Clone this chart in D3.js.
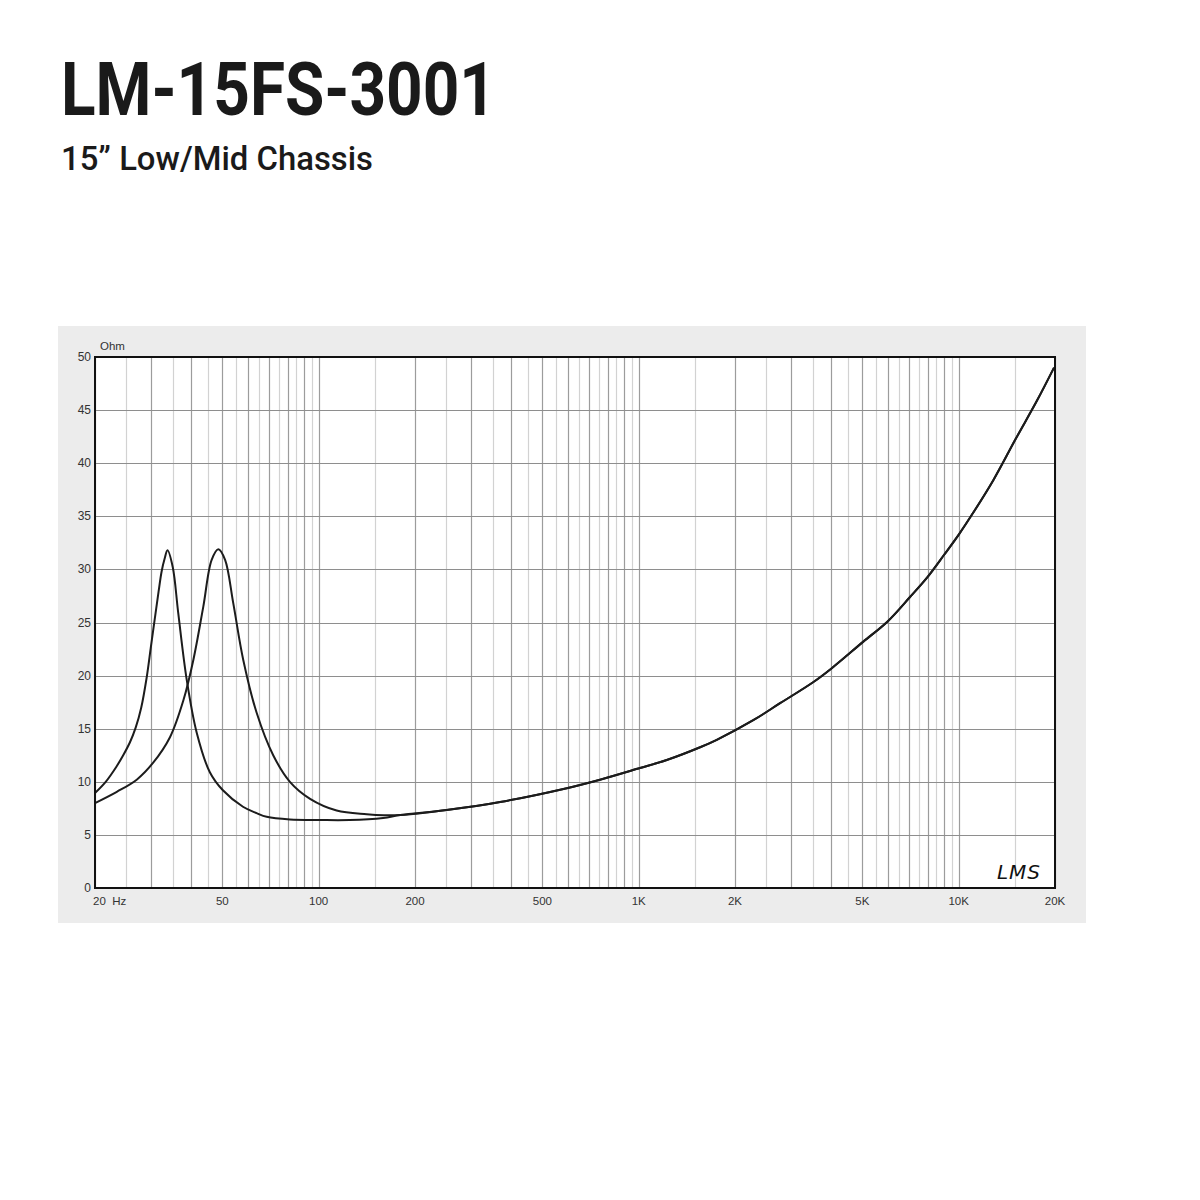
<!DOCTYPE html>
<html>
<head>
<meta charset="utf-8">
<script src="https://cdn.jsdelivr.net/npm/d3@7"></script>
<style>
  html, body { margin: 0; padding: 0; background: #ffffff; }
  svg { display: block; }
</style>
</head>
<body>
<svg id="chart" width="1200" height="1200"></svg>
<script>
// ---- Data ----
const titleText = "LM-15FS-3001";
const subtitleText = "15\u201D Low/Mid Chassis";

// Free-air resonance curve (lower fs)
const freqA = [20, 21.6, 23.3, 24.5, 25.7, 26.8, 27.9, 29.0, 29.9, 30.8, 31.6, 32.3, 33.0, 33.7, 35.0, 36.4, 38.7, 41.6, 45.7, 50.2, 58.0, 64.0, 68.8, 81.3, 101, 125, 159];
const ohmA  = [8.95, 10.0, 11.4, 12.5, 13.7, 15.1, 17.0, 19.8, 22.7, 25.5, 27.9, 29.8, 31.0, 31.8, 30.2, 25.9, 19.6, 14.6, 10.9, 9.2, 7.65, 7.05, 6.7, 6.45, 6.4, 6.4, 6.6];

// Second resonance curve (higher fs)
const freqB = [20, 23.4, 27.0, 30.4, 34.3, 37.8, 40.6, 43.6, 46.3, 48.6, 51.0, 54.1, 58.1, 64.0, 72.1, 81.3, 94.0, 113.8, 141.3, 160];
const ohmB  = [8.0, 9.06, 10.2, 11.8, 14.2, 17.7, 21.5, 26.5, 30.9, 31.9, 30.9, 26.8, 21.5, 16.5, 12.5, 10.0, 8.4, 7.3, 6.95, 6.85];

// Shared upper part of both curves
const freqCommon = [180, 251, 369, 596, 757, 1010, 1224, 1556, 1754, 2281, 2766, 3517, 4013, 5035, 5997, 7045, 8000, 9018, 10020, 11110, 12830, 15080, 17540, 19860];
const ohmCommon  = [6.87, 7.35, 8.1, 9.4, 10.2, 11.3, 12.05, 13.25, 13.95, 15.8, 17.4, 19.4, 20.7, 23.2, 25.1, 27.4, 29.3, 31.4, 33.3, 35.35, 38.4, 42.3, 45.85, 49.0];

// Axis ticks
const xTickValues = [20, 50, 100, 200, 500, 1000, 2000, 5000, 10000, 20000];
const xTickLabels = ["20  Hz", "50", "100", "200", "500", "1K", "2K", "5K", "10K", "20K"];
const yTickValues = [0, 5, 10, 15, 20, 25, 30, 35, 40, 45, 50];
const yUnitLabel = "Ohm";
const signature = "LMS";

// ---- Layout ----
const svg = d3.select("#chart");
const plot = { left: 95, right: 1055, top: 357, bottom: 888 };
const box = { x: 58, y: 326, w: 1028, h: 597 };

const x = d3.scaleLog().domain([20, 20000]).range([plot.left, plot.right]);
const y = d3.scaleLinear().domain([0, 50]).range([plot.bottom, plot.top]);

// Titles
svg.append("text")
  .attr("x", 61).attr("y", 115)
  .attr("font-family", "Roboto, 'Noto Sans', sans-serif")
  .attr("font-weight", 700).attr("font-size", 74)
  .attr("fill", "#1a1a1a")
  .attr("textLength", 435).attr("lengthAdjust", "spacingAndGlyphs")
  .text(titleText);

svg.append("text")
  .attr("x", 61).attr("y", 170)
  .attr("font-family", "Roboto, 'Noto Sans', sans-serif")
  .attr("font-weight", 500).attr("font-size", 33)
  .attr("fill", "#1a1a1a")
  .attr("textLength", 312).attr("lengthAdjust", "spacingAndGlyphs")
  .text(subtitleText);

// Grey panel
svg.append("rect")
  .attr("x", box.x).attr("y", box.y).attr("width", box.w).attr("height", box.h)
  .attr("fill", "#ececec");

// White plot area
svg.append("rect")
  .attr("x", plot.left).attr("y", plot.top)
  .attr("width", plot.right - plot.left).attr("height", plot.bottom - plot.top)
  .attr("fill", "#ffffff");

// Vertical grid: 1-9.5 steps of 0.5 per decade
const gridFreqs = [];
[10, 100, 1000, 10000].forEach(dec => {
  for (let m = 1; m < 10; m += 0.5) {
    const f = m * dec;
    if (f >= 20 && f <= 20000) gridFreqs.push({ f, major: Number.isInteger(m) });
  }
});
const g = svg.append("g");
g.selectAll("line.vg").data(gridFreqs).join("line")
  .attr("class", "vg")
  .attr("x1", d => Math.round(x(d.f)) + 0.5).attr("x2", d => Math.round(x(d.f)) + 0.5)
  .attr("y1", plot.top).attr("y2", plot.bottom)
  .attr("stroke", d => d.major ? "#9c9c9c" : "#d2d2d2")
  .attr("stroke-width", 1.2);

// Horizontal grid
g.selectAll("line.hg").data(yTickValues).join("line")
  .attr("class", "hg")
  .attr("x1", plot.left).attr("x2", plot.right)
  .attr("y1", d => Math.round(y(d)) + 0.5).attr("y2", d => Math.round(y(d)) + 0.5)
  .attr("stroke", "#8e8e8e").attr("stroke-width", 1.2);

// Curves
const line = d3.line()
  .x(d => x(d[0])).y(d => y(d[1]))
  .curve(d3.curveCatmullRom.alpha(0.5));

const curveA = freqA.map((f, i) => [f, ohmA[i]]).concat(freqCommon.map((f, i) => [f, ohmCommon[i]]));
const curveB = freqB.map((f, i) => [f, ohmB[i]]).concat(freqCommon.map((f, i) => [f, ohmCommon[i]]));

svg.append("path").datum(curveA)
  .attr("d", line).attr("fill", "none")
  .attr("stroke", "#1c1c1c").attr("stroke-width", 2).attr("stroke-linejoin", "round");
svg.append("path").datum(curveB)
  .attr("d", line).attr("fill", "none")
  .attr("stroke", "#1c1c1c").attr("stroke-width", 2).attr("stroke-linejoin", "round");

// Frame
svg.append("rect")
  .attr("x", plot.left).attr("y", plot.top)
  .attr("width", plot.right - plot.left).attr("height", plot.bottom - plot.top)
  .attr("fill", "none").attr("stroke", "#111").attr("stroke-width", 2);

// Y tick labels
svg.selectAll("text.yt").data(yTickValues).join("text")
  .attr("class", "yt")
  .attr("x", plot.left - 4).attr("y", d => y(d) + 4)
  .attr("text-anchor", "end")
  .attr("font-family", "'Liberation Sans', Arial, sans-serif")
  .attr("font-size", 12).attr("fill", "#333")
  .text(d => d);

svg.append("text")
  .attr("x", 100).attr("y", 350)
  .attr("font-family", "'Liberation Sans', Arial, sans-serif")
  .attr("font-size", 11.5).attr("fill", "#333")
  .text(yUnitLabel);

// X tick labels
svg.selectAll("text.xt").data(xTickValues).join("text")
  .attr("class", "xt")
  .attr("x", (d, i) => i === 0 ? x(d) - 2 : x(d))
  .attr("y", 905)
  .attr("text-anchor", (d, i) => i === 0 ? "start" : "middle")
  .attr("font-family", "'Liberation Sans', Arial, sans-serif")
  .attr("font-size", 11.5).attr("fill", "#333")
  .attr("xml:space", "preserve")
  .style("white-space", "pre")
  .text((d, i) => xTickLabels[i]);

// Signature
svg.append("text")
  .attr("x", 1019).attr("y", 879)
  .attr("text-anchor", "middle")
  .attr("font-family", "'DejaVu Sans', sans-serif")
  .attr("font-style", "italic")
  .attr("font-size", 20).attr("fill", "#111")
  .attr("letter-spacing", 1)
  .text(signature);
</script>
</body>
</html>
